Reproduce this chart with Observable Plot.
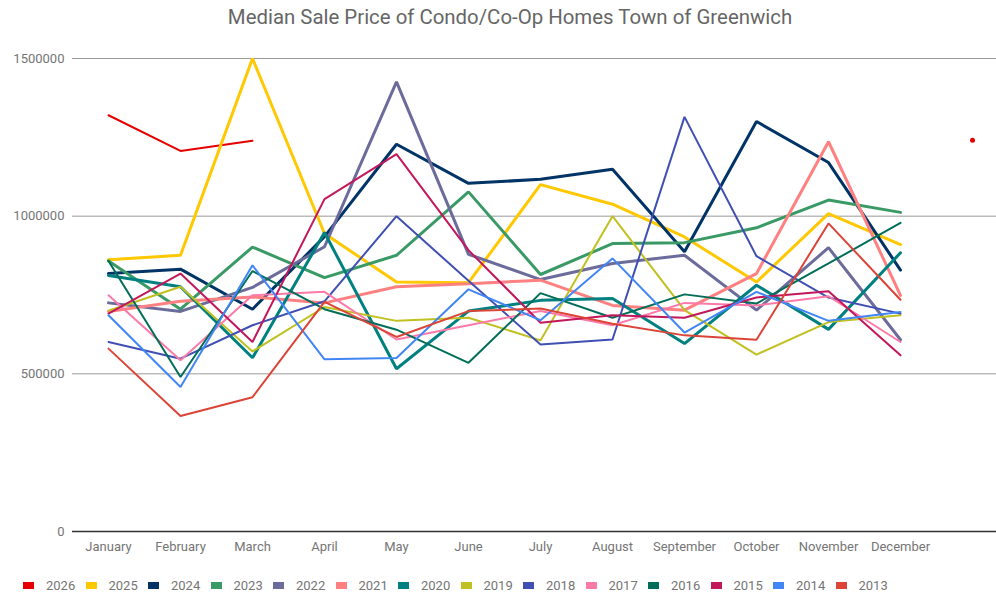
<!DOCTYPE html>
<html><head><meta charset="utf-8">
<script src="https://cdn.jsdelivr.net/npm/d3@7"></script>
<script src="https://cdn.jsdelivr.net/npm/@observablehq/plot@0.6"></script>
<style>
body{margin:0;background:#fff;font-family:Roboto,sans-serif;width:996px;height:597px;overflow:hidden}
#title{height:34px;line-height:34px;text-align:center;font-size:20.4px;color:#666;padding-left:24px;width:972px;white-space:nowrap}
#legend{height:23px;display:flex;align-items:center;font-size:13px;color:#757575;padding-left:23px}
.item{width:62.5px;display:flex;align-items:center;flex:none}
.sw{width:11px;height:7px;margin-right:12px}
#chart svg{display:block}
</style></head>
<body>
<div id="title">Median Sale Price of Condo/Co-Op Homes Town of Greenwich</div>
<div id="chart"></div>
<div id="legend"></div>
<script>
const months = ["January","February","March","April","May","June","July","August","September","October","November","December",""];
const years = ["2026","2025","2024","2023","2022","2021","2020","2019","2018","2017","2016","2015","2014","2013"];
const colors = ["#e60000","#ffc800","#003366","#3a9a66","#6b6b9c","#ff8080","#008080","#c0c020","#3f4fb3","#fb7aa8","#006e58","#c2185b","#4285f4","#db4437"];
const widths = [2,3,3,3,3,3,3,2,2,2,2,2,2,2];

const v2026 = [1320000,1207000,1239000,null,null,null,null,null,null,null,null,null,1241000];
const v2025 = [862000,876000,1500000,945000,791000,789000,1100000,1038000,934000,791000,1008000,910000];
const v2024 = [818000,832000,705000,935000,1228000,1104000,1117000,1149000,887000,1300000,1170000,829000];
const v2023 = [858000,705000,902000,805000,876000,1077000,815000,913000,916000,963000,1051000,1012000];
const v2022 = [725000,698000,774000,903000,1426000,879000,799000,850000,876000,702000,900000,608000];
const v2021 = [698000,730000,744000,725000,776000,786000,797000,717000,702000,818000,1236000,749000];
const v2020 = [812000,776000,551000,948000,516000,699000,733000,739000,596000,781000,641000,884000];
const v2019 = [700000,776000,571000,712000,668000,678000,606000,1000000,702000,561000,664000,686000];
const v2018 = [601000,548000,654000,730000,1000000,795000,593000,609000,1315000,873000,742000,691000];
const v2017 = [749000,543000,749000,760000,609000,654000,699000,654000,725000,717000,746000,601000];
const v2016 = [858000,490000,826000,705000,640000,535000,756000,678000,752000,723000,850000,979000];
const v2015 = [691000,818000,601000,1054000,1197000,892000,662000,686000,678000,742000,762000,559000];
const v2014 = [686000,458000,844000,546000,550000,768000,670000,866000,631000,760000,668000,696000];
const v2013 = [580000,366000,426000,728000,617000,699000,707000,659000,622000,608000,977000,735000];
const series = [v2026,v2025,v2024,v2023,v2022,v2021,v2020,v2019,v2018,v2017,v2016,v2015,v2014,v2013];
const yTicks = [0,500000,1000000,1500000];

const lineMarks = [];
const dotMarks = [];
years.forEach((yr,i)=>{
  const rows = series[i].map((v,j)=>({month:months[j], value:v, year:yr}));
  const main = rows.slice(0,12);
  lineMarks.push(Plot.line(main,{x:"month",y:"value",stroke:colors[i],strokeWidth:widths[i],strokeLinejoin:"miter",curve:"linear"}));
  const extra = rows.slice(12).filter(d=>d.value!=null);
  if (extra.length) dotMarks.push(Plot.dot(extra,{x:"month",y:"value",fill:colors[i],r:2.5,stroke:null}));
});

const chart = Plot.plot({
  width:996, height:540,
  marginLeft:72, marginRight:0, marginTop:24, marginBottom:43,
  style:{fontFamily:"Roboto, sans-serif", fontSize:"13px", color:"#757575", background:"#fff"},
  x:{type:"point", domain:months, range:[108,972], padding:0, label:null},
  y:{domain:[0,1500000], label:null},
  marks:[
    Plot.ruleY(yTicks.filter(d=>d>0),{stroke:"#9a9a9a",strokeWidth:1}),
    Plot.axisY(yTicks,{tickSize:0,tickPadding:8,tickFormat:d=>String(d),fill:"#757575",fontSize:13,label:null}),
    Plot.axisX({tickSize:0,tickPadding:10,fill:"#757575",fontSize:13,label:null}),
    ...lineMarks,
    ...dotMarks,
    Plot.ruleY([0],{stroke:"#333",strokeWidth:1.5})
  ]
});
document.getElementById("chart").appendChild(chart);

const lg = document.getElementById("legend");
years.forEach((yr,i)=>{
  const it = document.createElement("div"); it.className="item";
  const sw = document.createElement("span"); sw.className="sw"; sw.style.background=colors[i];
  const t = document.createElement("span"); t.textContent=yr;
  it.appendChild(sw); it.appendChild(t); lg.appendChild(it);
});
</script>
</body></html>
